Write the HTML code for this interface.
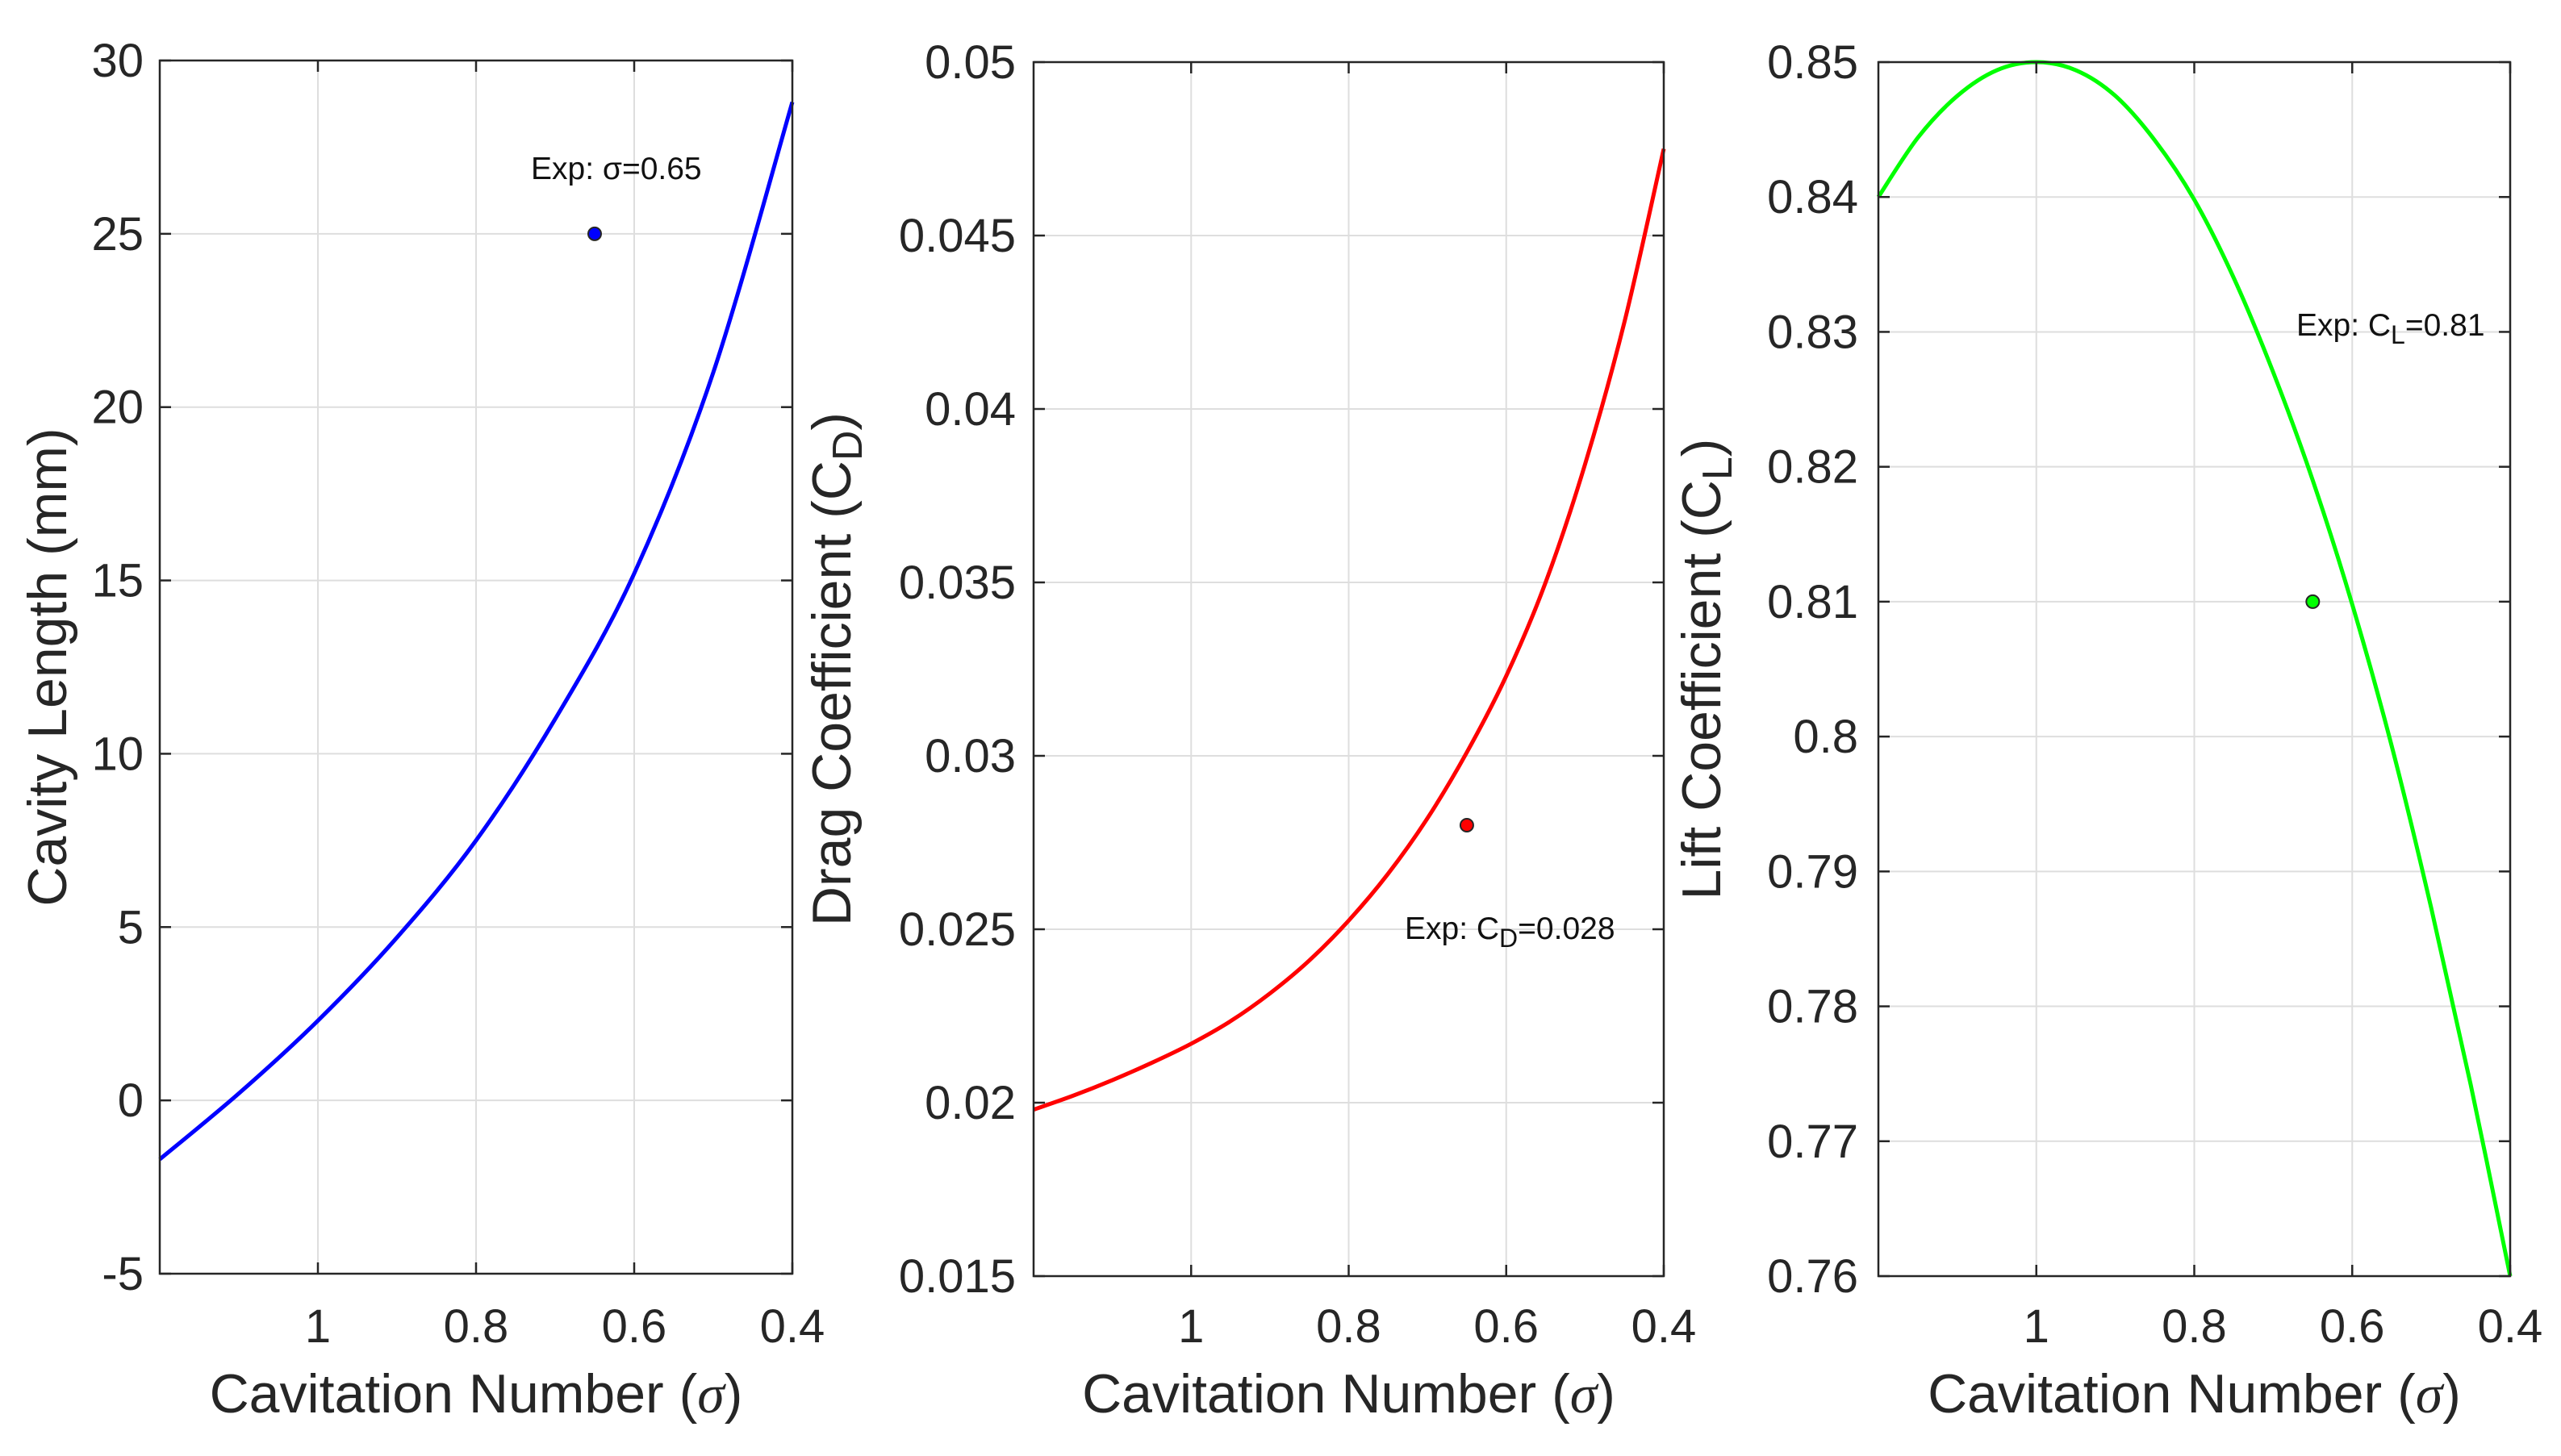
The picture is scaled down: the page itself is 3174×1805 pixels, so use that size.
<!DOCTYPE html>
<html><head><meta charset="utf-8">
<style>
html,body{margin:0;padding:0;background:#fff;}
svg{display:block;font-family:"Liberation Sans",Arial,sans-serif;}
</style></head>
<body>
<svg id="fig" width="3174" height="1805" viewBox="0 0 3174 1805" xmlns="http://www.w3.org/2000/svg"></svg>
<script>
// ---- data ----
const sigma = [1.2, 1.1, 1.0, 0.9, 0.8, 0.7, 0.6, 0.5, 0.4];
const cavityLength = [-1.7, 0.2, 2.3, 4.7, 7.5, 11.0, 15.2, 21.0, 28.8];
const sigmaFine = [1.2, 1.15, 1.1, 1.05, 1.0, 0.95, 0.9, 0.85, 0.8, 0.75, 0.7, 0.65, 0.6, 0.55, 0.5, 0.45, 0.4];
const dragCoef = [0.0198, 0.0202, 0.02065, 0.02115, 0.0217, 0.02235, 0.02315, 0.0241, 0.02525, 0.0266, 0.0282, 0.0301, 0.0323, 0.0350, 0.0384, 0.0425, 0.0475];
const liftCoef = [0.840, 0.8444, 0.8475, 0.8494, 0.850, 0.8494, 0.8475, 0.8442, 0.8398, 0.8340, 0.8270, 0.8190, 0.8098, 0.7993, 0.7873, 0.7742, 0.760];
const xTicks = [1, 0.8, 0.6, 0.4];
const xTickLabels = ["1", "0.8", "0.6", "0.4"];
const yTicks1 = [-5, 0, 5, 10, 15, 20, 25, 30];
const yTickLabels1 = ["-5", "0", "5", "10", "15", "20", "25", "30"];
const yTicks2 = [0.015, 0.02, 0.025, 0.03, 0.035, 0.04, 0.045, 0.05];
const yTickLabels2 = ["0.015", "0.02", "0.025", "0.03", "0.035", "0.04", "0.045", "0.05"];
const yTicks3 = [0.76, 0.77, 0.78, 0.79, 0.8, 0.81, 0.82, 0.83, 0.84, 0.85];
const yTickLabels3 = ["0.76", "0.77", "0.78", "0.79", "0.8", "0.81", "0.82", "0.83", "0.84", "0.85"];
const expSigma = [0.65];
const expL = [25];
const expCD = [0.028];
const expCL = [0.81];

const NS = "http://www.w3.org/2000/svg";
const svg = document.getElementById("fig");
function mk(tag, attrs, parent) {
  const e = document.createElementNS(NS, tag);
  for (const k in attrs) e.setAttribute(k, attrs[k]);
  (parent || svg).appendChild(e);
  return e;
}

function smoothPath(pts) {
  let d = "M" + pts[0][0] + "," + pts[0][1];
  for (let i = 0; i < pts.length - 1; i++) {
    const p0 = pts[i - 1] || pts[i], p1 = pts[i], p2 = pts[i + 1], p3 = pts[i + 2] || p2;
    const c1x = p1[0] + (p2[0] - p0[0]) / 6, c1y = p1[1] + (p2[1] - p0[1]) / 6;
    const c2x = p2[0] - (p3[0] - p1[0]) / 6, c2y = p2[1] - (p3[1] - p1[1]) / 6;
    d += " C" + c1x + "," + c1y + " " + c2x + "," + c2y + " " + p2[0] + "," + p2[1];
  }
  return d;
}

function panel(cfg) {
  const g = mk("g", {});
  
  
  const L = cfg.l, R = cfg.r, T = cfg.t, B = cfg.b;
  const xs = v => L + (1.2 - v) / (1.2 - 0.4) * (R - L);
  const ys = v => B - (v - cfg.ymin) / (cfg.ymax - cfg.ymin) * (B - T);
  xTicks.forEach((t) => {
    const gl = mk("line", {x1: xs(t), x2: xs(t), y1: T, y2: B, stroke: "#dedede", "stroke-width": 2}, g);
    
    
  });
  cfg.yticks.forEach((t) => {
    const gl = mk("line", {x1: L, x2: R, y1: ys(t), y2: ys(t), stroke: "#dedede", "stroke-width": 2}, g);
    
    
  });
  const pts = cfg.xs.map((s, i) => [xs(s), ys(cfg.vals[i])]);
  const path = mk("path", {d: smoothPath(pts), fill: "none", stroke: cfg.color, "stroke-width": 5}, g);
  
  
  const box = mk("rect", {x: L, y: T, width: R - L, height: B - T, fill: "none", stroke: "#262626", "stroke-width": 2.5}, g);
  
  
  xTicks.forEach((t, i) => {
    mk("line", {x1: xs(t), x2: xs(t), y1: B, y2: B - 14, stroke: "#262626", "stroke-width": 2.5}, g);
    mk("line", {x1: xs(t), x2: xs(t), y1: T, y2: T + 14, stroke: "#262626", "stroke-width": 2.5}, g);
    const tx = mk("text", {x: xs(t), y: 1664, "font-size": 58, "text-anchor": "middle", fill: "#262626"}, g);
    tx.textContent = xTickLabels[i];
    
    
  });
  cfg.yticks.forEach((t, i) => {
    mk("line", {x1: L, x2: L + 14, y1: ys(t), y2: ys(t), stroke: "#262626", "stroke-width": 2.5}, g);
    mk("line", {x1: R, x2: R - 14, y1: ys(t), y2: ys(t), stroke: "#262626", "stroke-width": 2.5}, g);
    const ty = mk("text", {x: cfg.ytx, y: ys(t) + 20, "font-size": 58, "text-anchor": "end", fill: "#262626"}, g);
    ty.textContent = cfg.ylabels[i];
    
    
  });
  const xl = mk("text", {x: (L + R) / 2, y: 1751, "font-size": 68, "text-anchor": "middle", fill: "#262626"}, g);
  xl.innerHTML = 'Cavitation Number (<tspan font-family="Liberation Serif, serif" font-style="italic">σ</tspan>)';
  
  
  const cy = (T + B) / 2;
  const yl = mk("text", {x: cfg.ylx, y: cy, "font-size": 68, "text-anchor": "middle", fill: "#262626", transform: "rotate(-90 " + cfg.ylx + " " + cy + ")"}, g);
  yl.innerHTML = cfg.ytitle;
  
  
  const c = mk("circle", {cx: xs(expSigma[0]), cy: ys(cfg.exp[0]), r: 8, fill: cfg.color, stroke: "#262626", "stroke-width": 2}, g);
  
  
  const an = mk("text", {x: cfg.ax, y: cfg.ay, "font-size": 39, fill: "#111"}, g);
  an.innerHTML = cfg.ann;
  
  
}

panel({name: "cavity-length-panel", l: 198, r: 982, t: 75, b: 1579, ymin: -5, ymax: 30,
  yticks: yTicks1, ylabels: yTickLabels1, xs: sigma, vals: cavityLength, color: "#0000ff", exp: expL,
  ytx: 178, ylx: 82, ytitle: "Cavity Length (mm)",
  ax: 658, ay: 222, ann: "Exp: σ=0.65"});
panel({name: "drag-coefficient-panel", l: 1281, r: 2062, t: 77, b: 1582, ymin: 0.015, ymax: 0.05,
  yticks: yTicks2, ylabels: yTickLabels2, xs: sigmaFine, vals: dragCoef, color: "#ff0000", exp: expCD,
  ytx: 1259, ylx: 1054, ytitle: 'Drag Coefficient (C<tspan dy="14" font-size="52">D</tspan><tspan dy="-14">)</tspan>',
  ax: 1741, ay: 1164, ann: 'Exp: C<tspan dy="10" font-size="32">D</tspan><tspan dy="-10">=0.028</tspan>'});
panel({name: "lift-coefficient-panel", l: 2328, r: 3111, t: 77, b: 1582, ymin: 0.76, ymax: 0.85,
  yticks: yTicks3, ylabels: yTickLabels3, xs: sigmaFine, vals: liftCoef, color: "#00ff00", exp: expCL,
  ytx: 2303, ylx: 2132, ytitle: 'Lift Coefficient (C<tspan dy="14" font-size="52">L</tspan><tspan dy="-14">)</tspan>',
  ax: 2846, ay: 416, ann: 'Exp: C<tspan dy="10" font-size="32">L</tspan><tspan dy="-10">=0.81</tspan>'});
</script>
</body></html>
